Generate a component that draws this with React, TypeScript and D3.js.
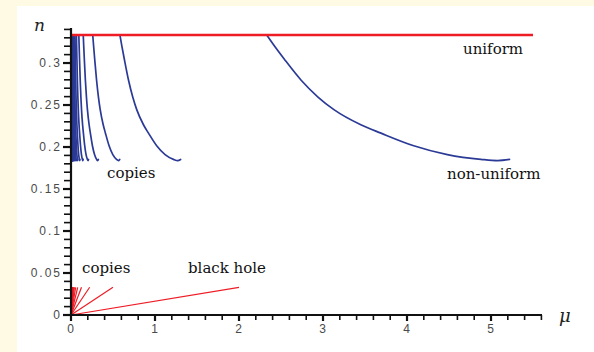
import React from "react";
import * as d3 from "d3";

const W = 594;
const H = 352;

// non-uniform branch (k = 1)
const branchMu = [2.33, 2.42, 2.54, 2.74, 2.94, 3.13, 3.45, 3.69, 4.08, 4.48, 4.88, 5.08, 5.22];
const branchN = [0.3333, 0.3205, 0.3045, 0.2795, 0.2595, 0.2445, 0.2265, 0.2165, 0.2015, 0.191, 0.1853, 0.1838, 0.1852];
// copies scale mu by 1/k^2
const copyKs = d3.range(1, 41);
// uniform branch
const uniformMu = [0, 5.5];
const uniformN = [1 / 3, 1 / 3];
// black hole branch and its copies
const bhMu = [0, 2.0];
const bhN = [0, 0.033];
const xTickLabels = [0, 1, 2, 3, 4, 5];
const yTickLabels = [0, 0.05, 0.1, 0.15, 0.2, 0.25, 0.3];

const BLUE = "#2b3a96";
const RED = "#ee1c25";
const TXT = "#4a4a4a";

export default function App() {
  const x = d3.scaleLinear().domain([0, 5.607]).range([71, 542]);
  const y = d3.scaleLinear().domain([0, 0.3417]).range([315, 28]);
  const line = d3
    .line<[number, number]>()
    .x((d) => x(d[0]))
    .y((d) => y(d[1]))
    .curve(d3.curveMonotoneX);
  const straight = d3
    .line<[number, number]>()
    .x((d) => x(d[0]))
    .y((d) => y(d[1]));

  const xMinor = d3.range(0, 5.61, 0.2);
  const yMinor = d3.range(0, 0.3405, 0.01);

  const serif = "'DejaVu Serif', serif";
  const sans = "'Liberation Sans', Arial, sans-serif";

  return (
    <svg
      width={W}
      height={H}
      style={{ position: "absolute", left: 0, top: 0, display: "block" }}
    >
      <rect x={0} y={0} width={W} height={H} fill="#fefae3" />
      <rect x={17} y={6} width={W - 17} height={H - 6} fill="#ffffff" />

      {/* blue copies */}
      {copyKs
        .slice()
        .reverse()
        .map((k) => (
          <path
            key={"b" + k}
            d={
              line(
                branchMu.map((m, i) => [m / (k * k), branchN[i]] as [number, number])
              ) || ""
            }
            fill="none"
            stroke={BLUE}
            strokeWidth={1.7}
            strokeLinecap="round"
          />
        ))}

      {/* red black-hole copies */}
      {copyKs.map((k) => (
        <path
          key={"r" + k}
          d={
            straight(
              bhMu.map((m, i) => [m / (k * k), bhN[i]] as [number, number])
            ) || ""
          }
          fill="none"
          stroke={RED}
          strokeWidth={1.2}
        />
      ))}

      {/* uniform */}
      <path
        d={straight(uniformMu.map((m, i) => [m, uniformN[i]] as [number, number])) || ""}
        fill="none"
        stroke={RED}
        strokeWidth={2.5}
      />

      {/* axes */}
      <line x1={x(0)} x2={x(5.607)} y1={y(0)} y2={y(0)} stroke="#111" strokeWidth={2.2} />
      <line x1={x(0)} x2={x(0)} y1={y(0) + 1} y2={y(0.3417)} stroke="#111" strokeWidth={2.2} />
      {xMinor.map((t, i) => (
        <line
          key={"xt" + i}
          x1={x(t)}
          x2={x(t)}
          y1={y(0)}
          y2={y(0) + (i % 5 === 0 ? 6 : 5)}
          stroke="#111"
          strokeWidth={i % 5 === 0 ? 2.2 : 1.6}
        />
      ))}
      {yMinor.map((t, i) => (
        <line
          key={"yt" + i}
          x1={x(0) - (i % 5 === 0 ? 8 : 7)}
          x2={x(0)}
          y1={y(t)}
          y2={y(t)}
          stroke="#111"
          strokeWidth={i % 5 === 0 ? 2.2 : 1.6}
        />
      ))}
      {xTickLabels.map((t) => (
        <text
          key={"xl" + t}
          x={x(t)}
          y={330}
          textAnchor="middle"
          dominantBaseline="middle"
          fontFamily={sans}
          fontSize={12}
          letterSpacing={1}
          fill={TXT}
        >
          {t}
        </text>
      ))}
      {yTickLabels.map((t) => (
        <text
          key={"yl" + t}
          x={62}
          y={y(t) + 1}
          textAnchor="end"
          dominantBaseline="middle"
          fontFamily={sans}
          fontSize={12}
          letterSpacing={2}
          fill={TXT}
        >
          {t}
        </text>
      ))}

      <text x={34} y={31} fontFamily={serif} fontStyle="italic" fontSize={17} fill="#222">
        n
      </text>
      <text x={559} y={322} fontFamily={serif} fontStyle="italic" fontSize={18} fill="#222">
        μ
      </text>

      <text x={463} y={54} fontFamily={serif} fontSize={15} fill="#111">
        uniform
      </text>
      <text x={447} y={179} fontFamily={serif} fontSize={15} fill="#111">
        non-uniform
      </text>
      <text x={107} y={178} fontFamily={serif} fontSize={15} fill="#111">
        copies
      </text>
      <text x={82} y={273} fontFamily={serif} fontSize={15} fill="#111">
        copies
      </text>
      <text x={188} y={273} fontFamily={serif} fontSize={15} fill="#111">
        black hole
      </text>
    </svg>
  );
}
